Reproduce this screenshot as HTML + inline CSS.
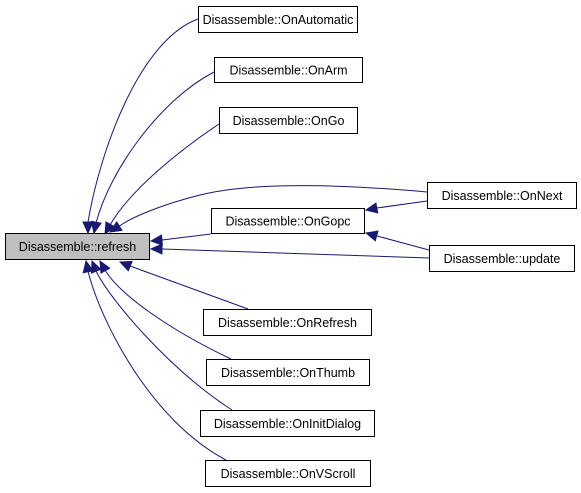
<!DOCTYPE html>
<html><head><meta charset="utf-8"><style>
body{margin:0;background:#fff;}
svg{display:block;font-family:"Liberation Sans",Arial,sans-serif;}
</style></head><body>
<svg id="g" width="581" height="493" viewBox="0 0 581 493">
<g id="edges"></g>
<g id="nodes"></g>
</svg>
<script>
const nodeLabels=["Disassemble::refresh","Disassemble::OnAutomatic","Disassemble::OnArm","Disassemble::OnGo","Disassemble::OnNext","Disassemble::OnGopc","Disassemble::update","Disassemble::OnRefresh","Disassemble::OnThumb","Disassemble::OnInitDialog","Disassemble::OnVScroll"];
const NS="http://www.w3.org/2000/svg";
const boxes=[[5,233,144,26],[198,6,159,26],[214,57,148,25],[219,107,138,26],[427,182,149,26],[211,208,153,25],[429,245,145,26],[203,309,168,26],[206,359,163,26],[200,410,174,26],[205,460,165,26]];
const edges=[
 ["M198,19 C140,40 100,150 88,222",88,233],
 ["M214,72 C160,100 110,170 96,223",94,233],
 ["M219,124 C180,150 130,190 110,225",105,234],
 ["M427,192 C360,186 260,180 200,195 C160,205 130,218 118,227",110,232],
 ["M211,234 L162,240",151,241],
 ["M429,258 L162,249",151,249],
 ["M427,201 L377,208",366,210],
 ["M429,250 L377,236",366,233],
 ["M248,309 L130,266",120,262],
 ["M231,359 C170,330 120,295 105,270",100,261],
 ["M232,410 C170,370 110,300 96,271",92,261],
 ["M226,460 C150,420 100,320 88,271",86,261]
];
const eg=document.getElementById('edges');
edges.forEach((e,i)=>{
 const p=document.createElementNS(NS,'path');
 p.setAttribute('d',e[0]);p.setAttribute('fill','none');p.setAttribute('stroke','#191970');p.setAttribute('stroke-width','1');
 
 
 eg.appendChild(p);
 // arrowhead direction from path's last point
 const nums=e[0].match(/-?\d+(\.\d+)?/g).map(Number);
 const lx=nums[nums.length-2],ly=nums[nums.length-1];
 const tx=e[1],ty=e[2];
 let dx=tx-lx,dy=ty-ly;const L=Math.hypot(dx,dy);dx/=L;dy/=L;
 const bx=tx-dx*11,by=ty-dy*11,px=-dy*5,py=dx*5;
 const a=document.createElementNS(NS,'polygon');
 a.setAttribute('points',`${tx},${ty} ${bx+px},${by+py} ${bx-px},${by-py}`);
 a.setAttribute('fill','#191970');a.setAttribute('stroke','#191970');
 
 
 eg.appendChild(a);
});
const ng=document.getElementById('nodes');
boxes.forEach((b,i)=>{
 const g=document.createElementNS(NS,'g');
 
 
 const r=document.createElementNS(NS,'rect');
 r.setAttribute('x',b[0]+0.5);r.setAttribute('y',b[1]+0.5);r.setAttribute('width',b[2]);r.setAttribute('height',b[3]);
 r.setAttribute('fill',i==0?'#bfbfbf':'#fff');r.setAttribute('stroke','#000');
 g.appendChild(r);
 const t=document.createElementNS(NS,'text');
 t.setAttribute('x',b[0]+b[2]/2+0.5);t.setAttribute('y',b[1]+b[3]/2+5);
 t.setAttribute('text-anchor','middle');t.setAttribute('font-size','12.5');
 t.textContent=nodeLabels[i];
 g.appendChild(t);
 ng.appendChild(g);
});
</script>
</body></html>
